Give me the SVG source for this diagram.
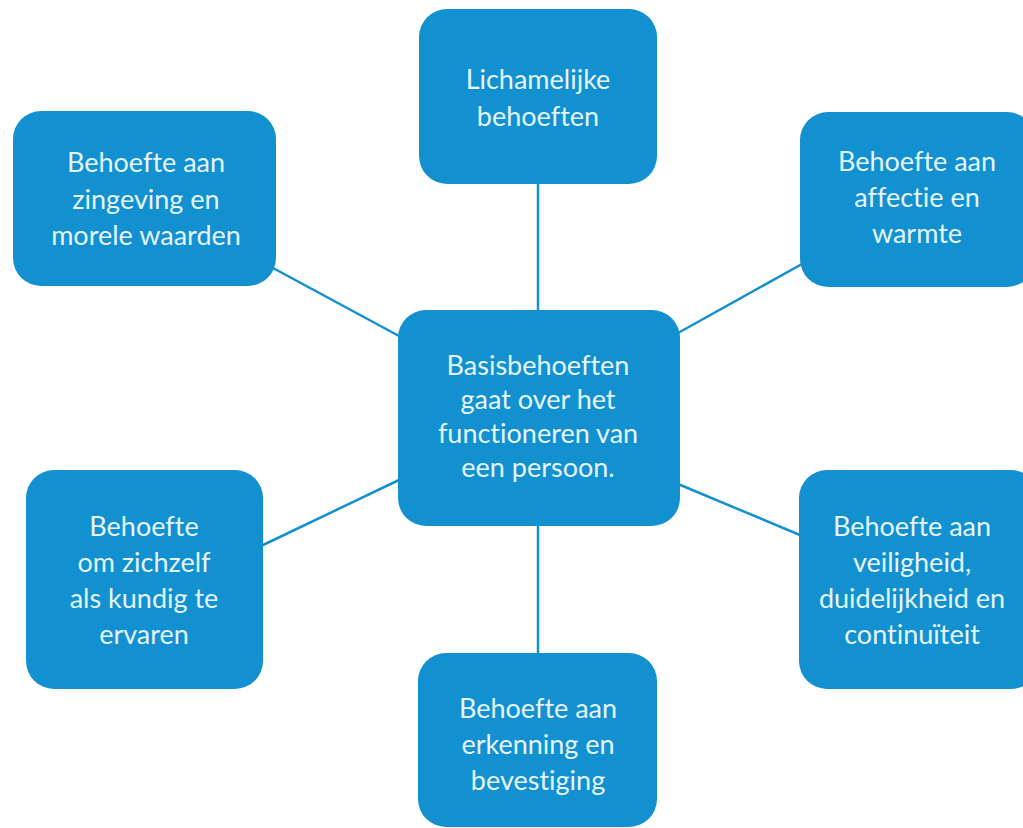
<svg xmlns="http://www.w3.org/2000/svg" width="1023" height="828" viewBox="0 0 1023 828">
<style>
.box{fill:#1290d0;}
.t{font-family:Lato,"Open Sans","Liberation Sans",sans-serif;font-size:27px;fill:#e4f6fc;text-anchor:middle;font-variant-ligatures:none;}
.c{stroke:#1290d0;stroke-width:2.5;fill:none;}
</style>
<rect width="1023" height="828" fill="#ffffff"/>
<g id="connectors">
<line class="c" x1="538" y1="184" x2="538" y2="312"/>
<line class="c" x1="538" y1="524" x2="538" y2="654"/>
<line class="c" x1="273" y1="268" x2="399" y2="336"/>
<line class="c" x1="802" y1="264" x2="678" y2="333"/>
<line class="c" x1="261" y1="546" x2="399" y2="480"/>
<line class="c" x1="678" y1="484" x2="800" y2="535"/>
</g>
<g id="center">
<rect class="box" x="398" y="310" width="282" height="216" rx="28"/>
<text class="t" x="538" y="375">Basisbehoeften</text>
<text class="t" x="538" y="409">gaat over het</text>
<text class="t" x="538" y="443">functioneren van</text>
<text class="t" x="538" y="477">een persoon.</text>
</g>
<g id="top">
<rect class="box" x="419" y="9" width="238" height="175" rx="28"/>
<text class="t" x="538" y="89">Lichamelijke</text>
<text class="t" x="538" y="126">behoeften</text>
</g>
<g id="topleft">
<rect class="box" x="13" y="111" width="263" height="175" rx="28"/>
<text class="t" x="146" y="172">Behoefte aan</text>
<text class="t" x="146" y="209">zingeving en</text>
<text class="t" x="146" y="245">morele waarden</text>
</g>
<g id="topright">
<rect class="box" x="800" y="112" width="235" height="175" rx="28"/>
<text class="t" x="917" y="171">Behoefte aan</text>
<text class="t" x="917" y="207">affectie en</text>
<text class="t" x="917" y="243">warmte</text>
</g>
<g id="bottomleft">
<rect class="box" x="26" y="470" width="237" height="219" rx="28"/>
<text class="t" x="144" y="536">Behoefte</text>
<text class="t" x="144" y="572">om zichzelf</text>
<text class="t" x="144" y="608">als kundig te</text>
<text class="t" x="144" y="644">ervaren</text>
</g>
<g id="bottomright">
<rect class="box" x="799" y="470" width="240" height="219" rx="28"/>
<text class="t" x="912" y="536">Behoefte aan</text>
<text class="t" x="912" y="572">veiligheid,</text>
<text class="t" x="912" y="608">duidelijkheid en</text>
<text class="t" x="912" y="644">continuïteit</text>
</g>
<g id="bottom">
<rect class="box" x="418" y="653" width="239" height="174" rx="28"/>
<text class="t" x="538" y="718">Behoefte aan</text>
<text class="t" x="538" y="754">erkenning en</text>
<text class="t" x="538" y="790">bevestiging</text>
</g>
</svg>
